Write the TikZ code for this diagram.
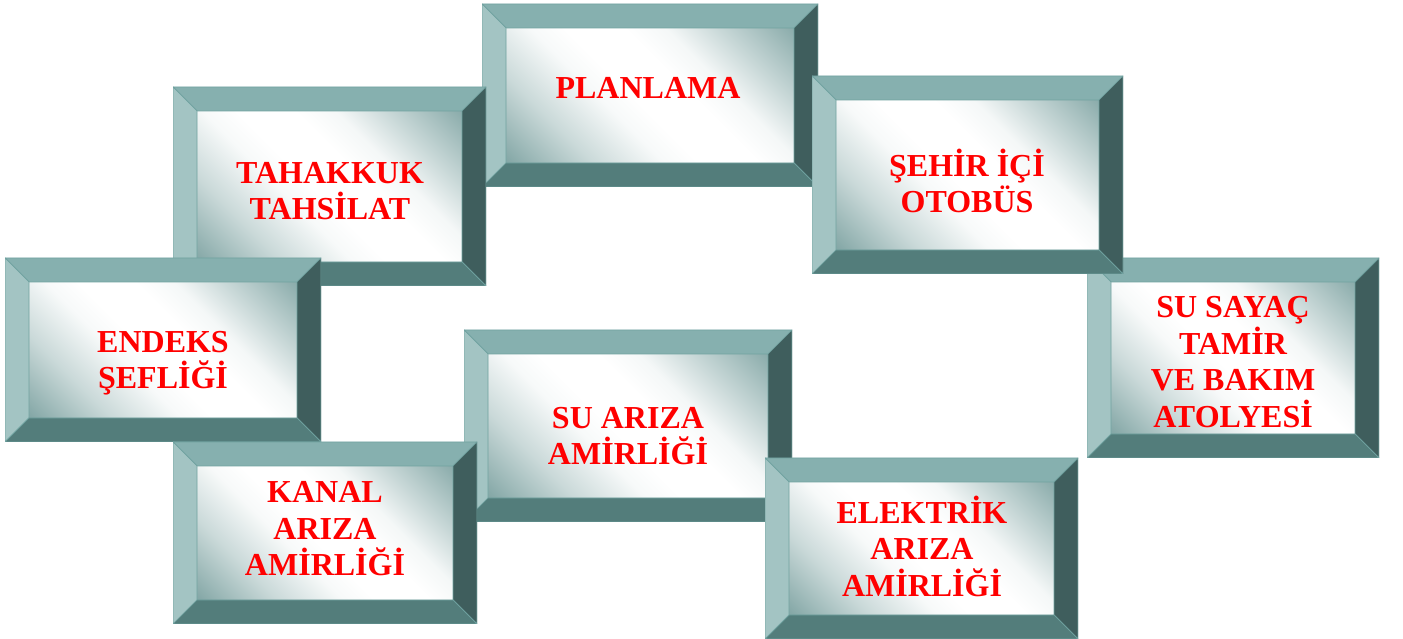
\documentclass[tikz,border=0pt]{standalone}
\usepackage{fontspec}
\setmainfont{Liberation Serif}
\usepackage{xcolor}
\definecolor{bevtop}{RGB}{134,176,175}
\definecolor{bevleft}{RGB}{163,196,195}
\definecolor{bevright}{RGB}{63,94,93}
\definecolor{bevbottom}{RGB}{83,125,123}
\definecolor{bevedge}{RGB}{112,162,160}
\definecolor{glass}{RGB}{122,160,159}
\definecolor{labelred}{RGB}{255,0,0}
\pgfdeclareverticalshading{mirror}{100bp}{color(0bp)=(glass); color(15bp)=(glass!92!white); color(29bp)=(glass!40!white); color(41bp)=(glass!6!white); color(47bp)=(white); color(57bp)=(white); color(64bp)=(glass!8!white); color(73bp)=(glass!42!white); color(86bp)=(glass!90!white); color(100bp)=(glass)}
\def\bev{24pt}

\begin{document}
\begin{tikzpicture}[
        x=1pt, y=1pt,
        frame/.style={rectangle, inner sep=0pt,
            path picture={
                \path (path picture bounding box.south west) coordinate (sw)
                      (path picture bounding box.north east) coordinate (ne)
                      (path picture bounding box.north west) coordinate (nw)
                      (path picture bounding box.south east) coordinate (se);
                \shade[shading=mirror, shading angle=-45] ([shift={(\bev,\bev)}]sw) rectangle ([shift={(-\bev,-\bev)}]ne);
                \filldraw[bevel, fill=bevtop] (nw) -- (ne) -- ([shift={(-\bev,-\bev)}]ne) -- ([shift={(\bev,-\bev)}]nw) -- cycle;
                \filldraw[bevel, fill=bevleft] (nw) -- ([shift={(\bev,-\bev)}]nw) -- ([shift={(\bev,\bev)}]sw) -- (sw) -- cycle;
                \filldraw[bevel, fill=bevright] (ne) -- (se) -- ([shift={(-\bev,\bev)}]se) -- ([shift={(-\bev,-\bev)}]ne) -- cycle;
                \filldraw[bevel, fill=bevbottom] (sw) -- ([shift={(\bev,\bev)}]sw) -- ([shift={(-\bev,\bev)}]se) -- (se) -- cycle;
            }},
        bevel/.style={draw=bevedge, line width=0.7pt, line join=miter},
        lbl/.style={font=\fontsize{32}{36.5}\selectfont\bfseries, text=labelred, align=center, inner sep=0pt}
    ]
        \useasboundingbox (0,0) rectangle (1403,639);

        % ust sira
        \node[frame, minimum width=336pt, minimum height=183pt] (plan) at (650, 543.5) {};
        \node[lbl] (plan-t) at (648, 551) {PLANLAMA};

        \node[frame, minimum width=313pt, minimum height=199pt] (tahakkuk) at (329.5, 452.5) {};
        \node[lbl] (tahakkuk-t) at (330, 448) {TAHAKKUK\\TAHSİLAT};

        \node[frame, minimum width=316pt, minimum height=184pt] (endeks) at (163, 289) {};
        \node[lbl] (endeks-t) at (163, 276) {ENDEKS\\ŞEFLİĞİ};

        \node[frame, minimum width=292pt, minimum height=200pt] (sayac) at (1233, 281) {};
        \node[lbl] (sayac-t) at (1233, 277) {SU SAYAÇ\\TAMİR\\VE BAKIM\\ATOLYESİ};

        \node[frame, minimum width=311pt, minimum height=198pt] (sehir) at (967.5, 464) {};
        \node[lbl] (sehir-t) at (967, 458) {ŞEHİR İÇİ\\OTOBÜS};

        % alt sira
        \node[frame, minimum width=328pt, minimum height=192pt] (suariza) at (628, 213) {};
        \node[lbl] (suariza-t) at (628, 203) {SU ARIZA\\AMİRLİĞİ};

        \node[frame, minimum width=304pt, minimum height=182pt] (kanal) at (325, 106) {};
        \node[lbl] (kanal-t) at (325, 110) {KANAL\\ARIZA\\AMİRLİĞİ};

        \node[frame, minimum width=313pt, minimum height=181pt] (elektrik) at (921.5, 90.5) {};
        \node[lbl] (elektrik-t) at (922, 93) {ELEKTRİK\\ARIZA\\AMİRLİĞİ};
    \end{tikzpicture}
\end{document}
